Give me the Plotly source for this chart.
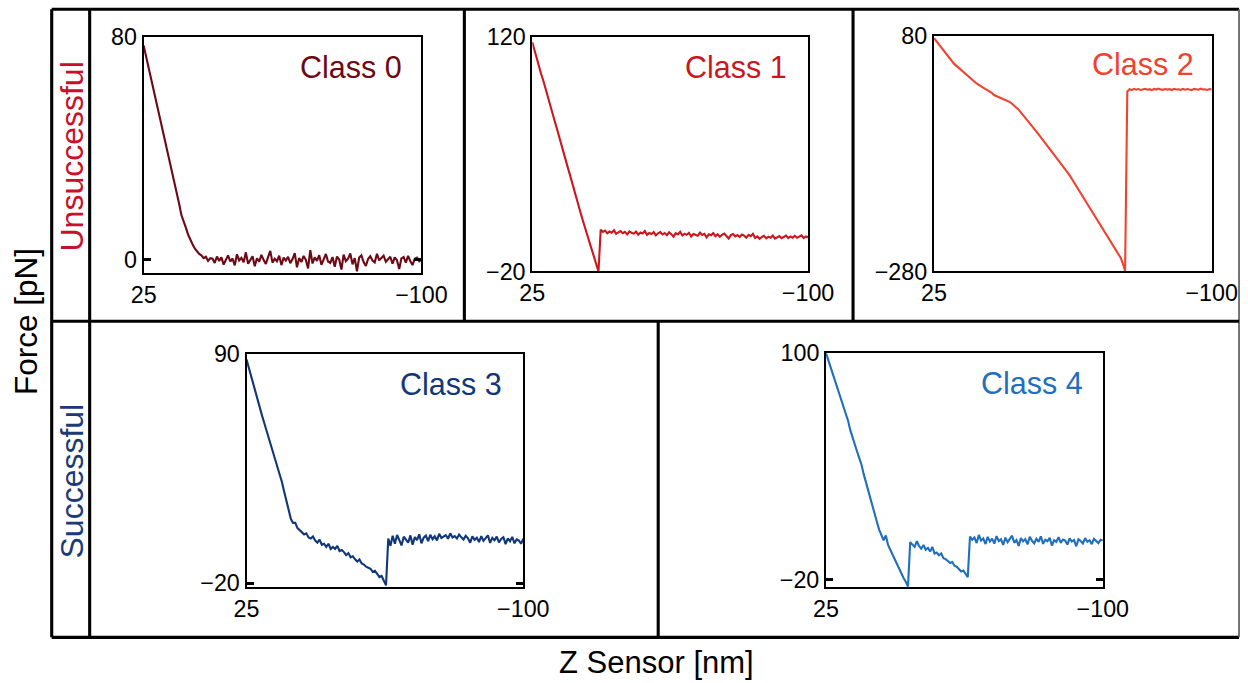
import plotly.graph_objects as go

# ---------------- data ----------------
# Z sensor sample positions (nm), 1 nm spacing from 25 down to -100
Z_NM = list(range(25, -101, -1))

X_TICKS = [25, -100]
X_TICKTEXT = ["25", "\u2212100"]

CLASS_NAMES = ["Class 0", "Class 1", "Class 2", "Class 3", "Class 4"]

# Class 0: approach (25..-5) + flat noisy part (-6..-100)
F0_APPROACH = [77, 73.5, 70, 66.5, 63, 59, 55.5, 52, 48.5, 45,
               41.5, 38, 34, 30.5, 27, 23.5, 20, 16, 14, 11.5,
               9, 7, 5.5, 4, 3, 2, 1.5, 0.5, 1, -0.5,
               0.5]
F0_FLAT = [0.3, -1.2, 1.1, -0.5, 0.8, -1.8, 0.2, 1.5, -0.7, 0.4,
           -2.1, 1.9, -0.3, 0.6, -1.0, 2.6, -1.5, 0.1, 1.2, -2.4,
           0.5, -0.8, 1.7, -0.2, -1.6, 0.9, 3.1, -1.1, 0.3, -0.6,
           1.4, -2.0, 0.7, -0.4, 1.0, -1.3, 0.2, 2.3, -2.8, 0.6,
           -0.9, 1.3, -0.1, -3.2, 3.4, -1.4, 0.8, -0.5, 1.6, -1.9,
           0.4, 2.0, -0.7, -1.2, 0.9, -2.6, 1.1, 0.0, -3.6, 1.8,
           -0.6, 0.3, 2.2, -1.7, 0.5, -4.2, 0.7, 1.5, -0.9, -2.3,
           0.2, 1.2, -0.4, -1.0, 2.1, -0.3, 0.6, 1.4, -0.8, 0.1,
           1.0, -1.5, 0.8, -0.2, -3.4, 0.4, 0.9, -1.1, 1.3, -0.5,
           -2.0, 0.3, 0.7, -0.6, 0.0]

# Class 1: approach (25..-5) + flat after rupture (-6..-100)
F1_APPROACH = [117, 112, 107.5, 103, 98, 94, 89, 84.5, 80, 75,
               70.5, 66, 61, 56.5, 52, 47, 42.5, 38, 33, 28.5,
               24, 19.5, 14.5, 10, 5.5, 1, -3.5, -8, -12.5, -17,
               -20]
F1_FLAT = [5.0, 3.6, 4.4, 2.8, 3.9, 3.2, 4.6, 2.5, 3.4, 4.1,
           2.9, 3.7, 2.2, 4.0, 3.1, 2.6, 3.8, 2.0, 3.3, 2.7,
           4.2, 1.9, 3.0, 2.4, 3.6, 1.6, 2.8, 3.5, 2.1, 3.0,
           1.7, 3.4, 2.3, 0.8, 2.9, 2.2, 3.7, 1.5, 2.6, 1.9,
           3.1, 0.9, 2.4, 2.0, 1.3, 3.2, 1.8, 2.5, 0.4, 2.2,
           1.6, 2.9, 1.1, 2.3, 0.7, 1.9, 2.6, 1.2, -0.3, 1.7,
           2.4, 1.0, 1.8, 0.6, 2.1, 1.4, 0.2, 1.9, 1.1, 2.5,
           0.0, 0.9, -0.5, 0.6, 1.3, -0.2, 0.8, 0.1, 1.4, -0.4,
           0.5, 1.1, -0.1, 0.7, 1.5, 0.0, 0.9, 0.2, 1.3, 0.1,
           0.8, 1.6, 0.0, 0.9, 0.4]

# Class 2: approach (25..-61) + flat after rupture (-62..-100)
F2_APPROACH = [77, 72.5, 68, 63.5, 59.5, 55, 51, 47, 42.5, 38,
               35, 32, 29, 26, 22.5, 19.5, 16.5, 13.5, 10, 8,
               6, 3.5, 1.5, -0.5, -2.5, -4.5, -6.5, -10, -11.5, -13,
               -14, -15.5, -16.5, -18, -20.5, -23, -25.5, -29, -32, -36,
               -40, -44, -48, -52.5, -57, -61, -65.5, -70, -74.5, -79,
               -83.5, -88, -92.5, -97, -101.5, -106, -110.5, -115, -119, -123,
               -127, -132.5, -138, -143.5, -149, -154.5, -160, -165, -170.5, -176,
               -181.5, -187, -192, -197.5, -203, -208, -213.5, -219, -224.5, -230,
               -235.5, -241, -246, -252, -259, -268, -279]
F2_FLAT = [-4.5, -1.0, -2.4, -0.6, -1.8, -0.9, -2.2, -1.3, -0.4, -1.9,
           -1.1, -2.5, -0.7, -1.6, -0.2, -1.4, -2.0, -0.8, -1.7, -1.0,
           -2.3, -0.5, -1.5, -1.2, -2.1, -0.6, -1.8, -0.9, -1.4, -2.6,
           -0.7, -1.3, -1.9, -0.4, -1.6, -1.1, -2.2, -0.8, -1.5]

# Class 3: approach (25..-38) + flat after rupture (-39..-100)
F3_APPROACH = [87.5, 83.5, 79.5, 75.5, 72, 68, 64.5, 60.5, 57, 53.5,
               50, 46, 42.5, 39, 35.5, 32, 28.5, 24, 20, 15.5,
               11, 9, 9, 6.5, 5.5, 4.5, 3.5, 4, 2, 1.5,
               2.5, 0.5, -0.5, 1, -1.5, -1, -2.5, -1, -3.5, -2.5,
               -3.5, -2, -4.5, -4, -5, -6.5, -5.5, -7.5, -7, -8.5,
               -9.5, -8.5, -10.5, -11, -12, -12.5, -13, -14.5, -14, -15.5,
               -17, -16.5, -18.5, -21]
F3_FLAT = [1.5, -2.0, 2.8, -1.0, 3.2, 0.5, -1.8, 2.4, 1.0, -0.5,
           3.0, -1.5, 2.2, 0.8, 3.5, -0.8, 1.9, 2.9, 0.3, 3.3,
           1.2, 2.6, 0.6, 3.8, 1.8, 2.4, 3.1, 1.4, 4.0, 2.0,
           2.7, 1.5, 3.4, 2.1, 1.0, 2.8, 1.6, -0.5, 2.5, 0.9,
           1.9, -0.2, 2.6, 0.4, 1.5, 3.0, -0.6, 1.8, 0.7, 2.4,
           -0.4, 1.3, 2.1, -1.2, 1.6, 0.2, 2.3, -0.8, 1.1, 0.5,
           -1.0, 1.4]

# Class 4: approach (25..-12) + intermediate (-13..-39) + flat (-40..-100)
F4_APPROACH = [100, 96.5, 93, 89.5, 86, 82.5, 79, 75.5, 72, 68,
               64, 59, 55, 51.5, 48, 44.5, 41, 36, 31.5, 28,
               24, 19, 15, 10.5, 6.5, 4, 1, 3.5, -1.5, -4,
               -6.5, -9.5, -12, -14.5, -16.5, -19, -21, -23.5]
F4_MID = [0.0, -1.0, -2.5, 0.5, -2.0, -3.5, -1.5, -4.0, -3.0, -5.0,
          -2.5, -6.0, -5.5, -7.0, -6.0, -8.5, -9.0, -10.0, -11.0, -10.5,
          -12.5, -13.0, -14.0, -15.5, -15.0, -17.0, -18.5]
F4_FLAT = [3.0, 1.2, 2.5, -0.5, 3.8, 0.8, 2.0, -1.0, 2.8, 0.3,
           1.9, -0.8, 3.2, 0.6, 1.5, -1.5, 2.4, 0.0, 1.7, 3.4,
           -0.3, 1.1, -2.0, 2.2, 0.4, 1.6, -1.2, 2.9, 0.7, -0.6,
           1.8, 0.2, 3.1, -0.9, 1.3, 0.5, 2.3, -1.8, 1.0, 0.1,
           2.6, -0.4, 1.4, 0.8, -1.3, 2.0, 0.3, 1.2, -2.2, 1.5,
           0.6, -0.7, 2.1, 0.2, 1.0, -1.1, 1.7, 0.4, -0.5, 1.3,
           0.9]

FORCES = [F0_APPROACH + F0_FLAT,
          F1_APPROACH + F1_FLAT,
          F2_APPROACH + F2_FLAT,
          F3_APPROACH + F3_FLAT,
          F4_APPROACH + F4_MID + F4_FLAT]

Y_RANGES = [[-5, 80], [-20, 120], [-280, 80], [-22, 90], [-24, 100]]
Y_TICKS = [[0, 80], [-20, 120], [-280, 80], [-20, 90], [-20, 100]]

# ---------------- style / layout ----------------
# Observed mapping between page CSS pixels and the photographed picture:
# picture = S * page + B, with the page body keeping its 8 px margin.
SX, BX = 0.970, 3.5
SY, BY = 0.965, 3.0
S = (SX + SY) / 2
MARGIN = 8
W, H = 1266, 684
FONT = "Liberation Sans, Arial, sans-serif"
COLORS = ["#6e0815", "#cc161e", "#f2412f", "#0f377a", "#1f6fbe"]
ROW_RED = "#c8102a"
ROW_BLUE = "#1b3a78"

# plot areas in target picture pixels: (x0, x1, y_top, y_bottom)
AREAS = [(142, 420, 35, 272), (531, 807, 35, 270), (933, 1211, 34, 270),
         (245, 522, 353, 587), (825, 1102, 352, 587)]
LABEL_POS = [(350, 65), (735, 65), (1142, 62), (450, 383), (1031, 382)]


def px(x):
    return ((x - BX) / SX - MARGIN) / W


def py(y):
    return 1 - ((y - BY) / SY - MARGIN) / H


def fs(v):
    return round(v / S, 1)


fig = go.Figure()
layout = dict(
    width=W, height=H, margin=dict(l=0, r=0, t=0, b=0),
    paper_bgcolor="white", plot_bgcolor="white", showlegend=False,
    font=dict(family=FONT, color="black"),
)

TICKFONT = dict(size=fs(22.5), color="black", family=FONT)
annotations = []
for i in range(5):
    n = i + 1
    sfx = "" if n == 1 else str(n)
    x0, x1, yt, yb = AREAS[i]
    fig.add_trace(go.Scatter(
        x=Z_NM, y=FORCES[i], mode="lines",
        line=dict(color=COLORS[i], width=fs(2)),
        xaxis="x" + sfx, yaxis="y" + sfx, hoverinfo="skip"))
    layout["xaxis" + sfx] = dict(
        domain=[px(x0), px(x1)], range=[25, -100], anchor="y" + sfx,
        tickvals=X_TICKS, ticktext=X_TICKTEXT, ticks="", showgrid=False,
        zeroline=False, showline=True, linecolor="black", linewidth=fs(2),
        mirror=True, tickfont=TICKFONT)
    yticks = Y_TICKS[i]
    layout["yaxis" + sfx] = dict(
        domain=[py(yb), py(yt)], range=Y_RANGES[i], anchor="x" + sfx,
        tickvals=yticks,
        ticktext=[str(v).replace("-", "\u2212") for v in yticks],
        ticks="inside", ticklen=fs(7), tickwidth=fs(3), tickcolor="black",
        showgrid=False, zeroline=False, showline=True, linecolor="black",
        linewidth=fs(2), mirror="ticks", tickfont=TICKFONT)
    lx, ly = LABEL_POS[i]
    annotations.append(dict(
        text=CLASS_NAMES[i], x=px(lx), y=py(ly), xref="paper", yref="paper",
        xanchor="center", yanchor="middle", showarrow=False,
        font=dict(size=fs(29.5), color=COLORS[i], family=FONT)))

annotations += [
    dict(text="Force [pN]", x=px(25), y=py(320), xref="paper", yref="paper",
         textangle=-90, showarrow=False, xanchor="center", yanchor="middle",
         font=dict(size=fs(30.5), color="black", family=FONT)),
    dict(text="Z Sensor [nm]", x=px(655), y=py(662), xref="paper", yref="paper",
         showarrow=False, xanchor="center", yanchor="middle",
         font=dict(size=fs(30), color="black", family=FONT)),
    dict(text="Unsuccessful", x=px(70), y=py(155), xref="paper", yref="paper",
         textangle=-90, showarrow=False, xanchor="center", yanchor="middle",
         font=dict(size=fs(31), color=ROW_RED, family=FONT)),
    dict(text="Successful", x=px(70), y=py(480), xref="paper", yref="paper",
         textangle=-90, showarrow=False, xanchor="center", yanchor="middle",
         font=dict(size=fs(31), color=ROW_BLUE, family=FONT)),
]
layout["annotations"] = annotations


def seg(xa, ya, xb, yb, width=3, color="black"):
    return dict(type="line", xref="paper", yref="paper",
                x0=px(xa), y0=py(ya), x1=px(xb), y1=py(yb),
                line=dict(color=color, width=fs(width)), layer="above")


RIGHT = min(1246, SX * (MARGIN + W - 1) + BX)  # right-most drawable pixel
layout["shapes"] = [
    seg(50, 7, RIGHT, 7),        # top
    seg(50, 637, RIGHT, 637),    # bottom
    seg(50, 7, 50, 637),         # left
    seg(RIGHT, 7, RIGHT, 637, width=1.5, color="#555555"),  # right
    seg(88, 7, 88, 637),         # label column divider
    seg(50, 320, RIGHT, 320),    # row divider
    seg(463, 7, 463, 320),
    seg(852, 7, 852, 320),
    seg(657, 320, 657, 637),
]

fig.update_layout(**layout)
fig.write_html("out.html", config={"displayModeBar": False})
